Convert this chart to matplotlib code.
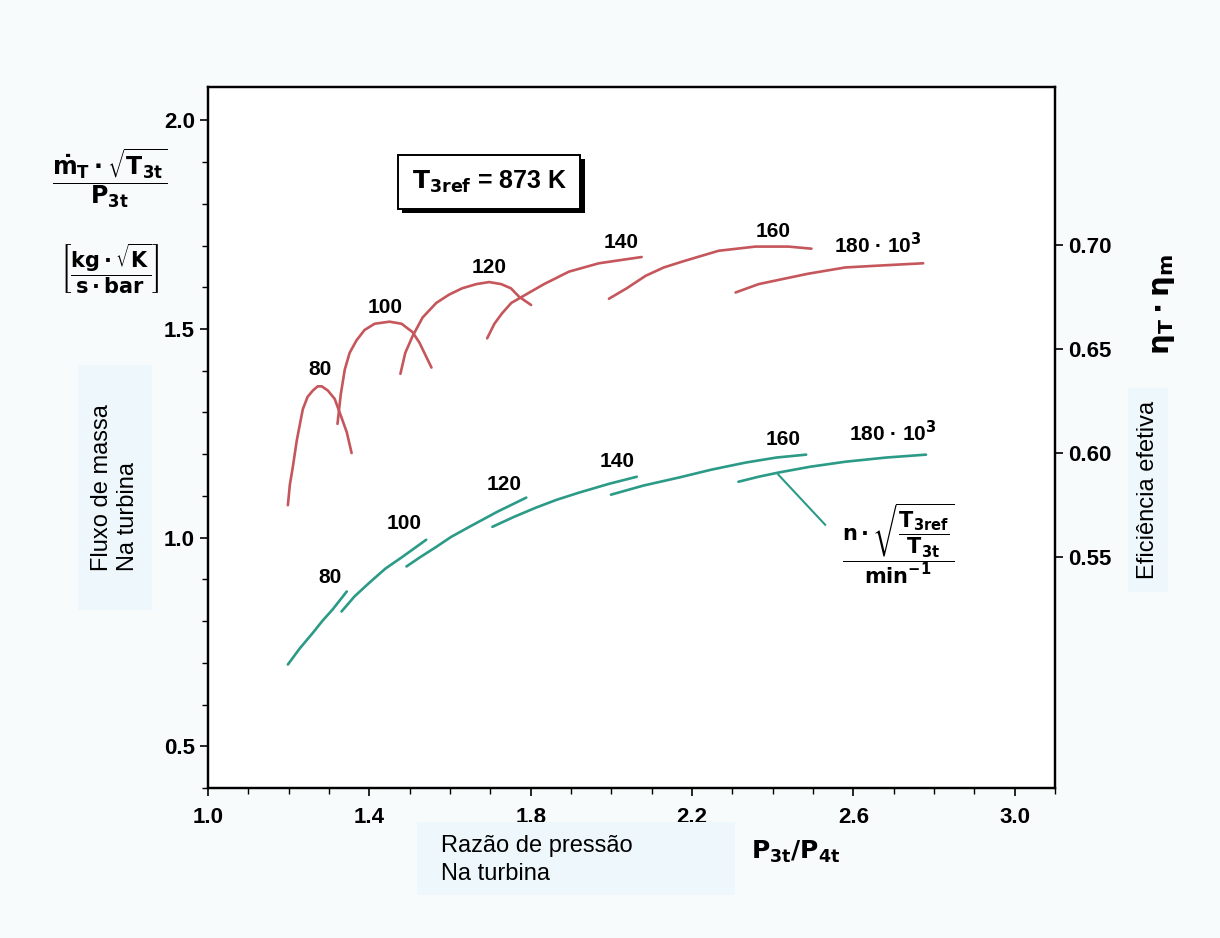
import matplotlib
matplotlib.use("Agg")
import matplotlib.pyplot as plt
import matplotlib.patheffects as pe
from matplotlib.patches import Rectangle
from matplotlib.ticker import MultipleLocator, FixedLocator

# speed lines n*sqrt(T3ref/T3t), x = pressure ratio P3t/P4t
speeds = ["80", "100", "120", "140", "160", "180 · 10$^3$"]

# efficiency eta_T * eta_m (right axis), one arc per speed
eff_x = [
    [1.198, 1.203, 1.210, 1.220, 1.235, 1.247, 1.260, 1.272, 1.282, 1.297, 1.314, 1.331, 1.344, 1.356],
    [1.321, 1.329, 1.339, 1.351, 1.368, 1.388, 1.413, 1.450, 1.480, 1.507, 1.524, 1.539, 1.554],
    [1.477, 1.489, 1.507, 1.532, 1.566, 1.598, 1.630, 1.665, 1.697, 1.727, 1.751, 1.771, 1.801],
    [1.692, 1.710, 1.729, 1.752, 1.779, 1.833, 1.895, 1.969, 2.075],
    [1.994, 2.038, 2.085, 2.130, 2.179, 2.266, 2.357, 2.439, 2.496],
    [2.308, 2.365, 2.414, 2.488, 2.580, 2.674, 2.773],
]
eff_y = [
    [0.575, 0.585, 0.593, 0.606, 0.621, 0.627, 0.630, 0.632, 0.632, 0.630, 0.626, 0.617, 0.610, 0.600],
    [0.614, 0.628, 0.640, 0.648, 0.654, 0.659, 0.662, 0.663, 0.662, 0.658, 0.653, 0.647, 0.641],
    [0.638, 0.648, 0.656, 0.665, 0.672, 0.676, 0.679, 0.681, 0.682, 0.681, 0.679, 0.675, 0.671],
    [0.655, 0.662, 0.667, 0.672, 0.675, 0.681, 0.687, 0.691, 0.694],
    [0.674, 0.679, 0.685, 0.689, 0.692, 0.697, 0.699, 0.699, 0.698],
    [0.677, 0.681, 0.683, 0.686, 0.689, 0.690, 0.691],
]

# reduced mass flow (left axis)
flow_x = [
    [1.198, 1.227, 1.260, 1.284, 1.309, 1.344],
    [1.331, 1.363, 1.400, 1.440, 1.482, 1.541],
    [1.492, 1.524, 1.566, 1.603, 1.648, 1.717, 1.789],
    [1.705, 1.759, 1.813, 1.865, 1.920, 1.994, 2.063],
    [1.999, 2.080, 2.167, 2.248, 2.333, 2.409, 2.483],
    [2.315, 2.365, 2.414, 2.493, 2.580, 2.681, 2.780],
]
flow_y = [
    [0.696, 0.734, 0.772, 0.801, 0.828, 0.871],
    [0.823, 0.859, 0.892, 0.926, 0.954, 0.995],
    [0.931, 0.952, 0.978, 1.002, 1.026, 1.062, 1.096],
    [1.026, 1.050, 1.072, 1.091, 1.108, 1.129, 1.146],
    [1.103, 1.125, 1.144, 1.163, 1.180, 1.192, 1.199],
    [1.134, 1.146, 1.156, 1.170, 1.182, 1.192, 1.199],
]

# label anchors
eff_lab_x = [1.277, 1.438, 1.697, 2.023, 2.402, 2.661]
eff_lab_y = [0.640, 0.670, 0.689, 0.701, 0.706, 0.700]
flow_lab_x = [1.302, 1.487, 1.734, 2.014, 2.426, 2.698]
flow_lab_y = [0.904, 1.034, 1.127, 1.182, 1.235, 1.251]

RED = "#c5565b"
GREEN = "#2b9a86"
BOXBG = "#eef7fb"

plt.rcParams["font.family"] = ["Liberation Sans", "DejaVu Sans"]
plt.rcParams["mathtext.fontset"] = "dejavusans"
plt.rcParams["mathtext.default"] = "bf"

fig = plt.figure(figsize=(12.2, 9.38), dpi=100, facecolor="#f7fbfb")
ax = fig.add_axes([0.1705, 0.1599, 0.6943, 0.7473])
ax2 = ax.twinx()

for xs, ys in zip(flow_x, flow_y):
    ax.plot(xs, ys, color=GREEN, lw=1.9, solid_capstyle="round", solid_joinstyle="round")
for xs, ys in zip(eff_x, eff_y):
    ax2.plot(xs, ys, color=RED, lw=1.9, solid_capstyle="round", solid_joinstyle="round")

for s, x, y in zip(speeds, flow_lab_x, flow_lab_y):
    ax.text(x, y, s, ha="center", va="center", fontsize=15, fontweight="bold")
for s, x, y in zip(speeds, eff_lab_x, eff_lab_y):
    ax2.text(x, y, s, ha="center", va="center", fontsize=15, fontweight="bold")

# leader line to the speed parameter label
ax.plot([2.414, 2.530], [1.151, 1.031], color=GREEN, lw=1.5)
ax.text(2.711, 0.985,
        r"$\dfrac{n\cdot\sqrt{\dfrac{T_{3ref}}{T_{3t}}}}{min^{-1}}$",
        ha="center", va="center", fontsize=15)

# boxed reference temperature with drop shadow
t = ax.text(1.697, 1.853, r"$T_{3ref}$ = 873 K", ha="center", va="center",
            fontsize=18, fontweight="bold",
            bbox=dict(boxstyle="square,pad=0.55", fc="white", ec="black", lw=1.4), zorder=5)
t.get_bbox_patch().set_path_effects([
    pe.SimplePatchShadow(offset=(3, -3), shadow_rgbFace="black", alpha=1.0), pe.Normal()])

ax.set_xlim(1.0, 3.1)
ax.set_ylim(0.4, 2.08)
ax2.set_ylim(0.4394, 0.7755)

ax.xaxis.set_major_locator(FixedLocator([1.0, 1.4, 1.8, 2.2, 2.6, 3.0]))
ax.xaxis.set_minor_locator(MultipleLocator(0.1))
ax.yaxis.set_major_locator(FixedLocator([0.5, 1.0, 1.5, 2.0]))
ax.yaxis.set_minor_locator(MultipleLocator(0.1))
ax2.yaxis.set_major_locator(FixedLocator([0.55, 0.60, 0.65, 0.70]))
ax2.set_yticklabels(["0.55", "0.60", "0.65", "0.70"])

for a in (ax, ax2):
    a.tick_params(which="major", length=6, width=1.2, labelsize=16, direction="out")
    a.tick_params(which="minor", length=4, width=1.0, direction="out")
    for lab in a.get_xticklabels() + a.get_yticklabels():
        lab.set_fontweight("bold")
    for sp in a.spines.values():
        sp.set_linewidth(1.6)
ax.set_xticklabels(["1.0", "1.4", "1.8", "2.2", "2.6", "3.0"], fontweight="bold")
ax.set_yticklabels(["0.5", "1.0", "1.5", "2.0"], fontweight="bold")
ax.tick_params(axis="x", pad=8)

# light label panels behind the Portuguese axis titles
for x0, y0, w, h in [(0.0639, 0.3497, 0.0607, 0.2612),
                     (0.9246, 0.3689, 0.0328, 0.2175),
                     (0.3418, 0.0458, 0.2607, 0.0778)]:
    fig.patches.append(Rectangle((x0, y0), w, h, transform=fig.transFigure,
                                 fc=BOXBG, ec="none", zorder=0))

# axis titles placed in figure coordinates like the original
fig.text(0.090, 0.810, r"$\dfrac{\dot{m}_T\cdot\sqrt{T_{3t}}}{P_{3t}}$",
         ha="center", va="center", fontsize=17)
fig.text(0.090, 0.714, r"$\left[\dfrac{kg\cdot\sqrt{K}}{s\cdot bar}\right]$",
         ha="center", va="center", fontsize=15)
fig.text(0.094, 0.480, "Fluxo de massa\nNa turbina", rotation=90, ha="center", va="center",
         multialignment="left", fontsize=17, linespacing=1.25)
fig.text(0.941, 0.478, "Eficiência efetiva", rotation=90, ha="center", va="center",
         fontsize=17)
fig.text(0.953, 0.675, r"$\eta_T\cdot\eta_m$", rotation=90, ha="center", va="center",
         fontsize=21)
fig.text(0.3615, 0.0832, "Razão de pressão\nNa turbina", ha="left", va="center",
         fontsize=17, linespacing=1.3)
fig.text(0.652, 0.0917, r"$P_{3t}/P_{4t}$", ha="center", va="center", fontsize=18)

fig.savefig("out.png", dpi=100, facecolor=fig.get_facecolor())
